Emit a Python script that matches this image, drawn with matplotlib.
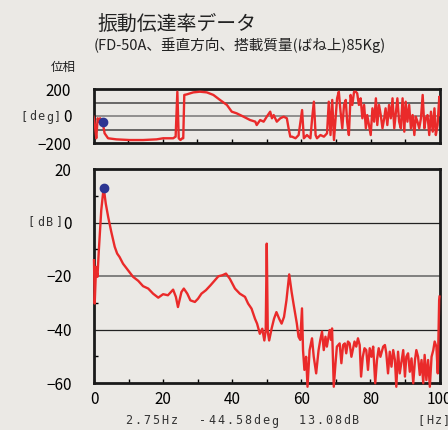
import numpy as np
import matplotlib
matplotlib.use('Agg')
import matplotlib.pyplot as plt

plt.rcParams['font.family'] = ['Noto Sans CJK JP', 'DejaVu Sans']

# phase data (Hz, deg)
ph_f = [0, 0.4, 0.8, 1.2, 1.5, 1.9, 2.3, 2.7, 3.2, 4.2, 6.6, 10.4, 14.3, 18.2, 20.1, 23.0,
        23.7, 24.2, 24.6, 25.1, 25.6, 25.9, 26.2, 26.9, 28.8, 30.7, 32.7, 34.6, 36.5, 38.5,
        39.9, 41.3, 43.3, 45.2, 46.7, 47.1, 48.1, 49.1, 50.0, 51.0, 51.5, 52.0, 52.9, 53.9,
        54.9, 55.8, 56.3, 56.8, 57.3, 58.3, 59.2, 60.2, 60.7, 61.6, 62.6, 63.1, 63.6, 64.1,
        64.5, 65.5, 66.5, 67.4, 67.9, 68.4, 68.9, 69.4, 70.3, 70.8, 71.3, 71.8, 72.3, 72.8,
        73.2, 73.7, 74.2, 74.7, 75.2, 75.7, 76.1, 76.6, 77.1, 77.6, 78.1, 78.6, 79.0, 80.0,
        80.5, 81.0, 81.5, 81.9, 82.4, 82.9, 83.4, 83.9, 84.3, 84.8, 85.3, 85.8, 86.3, 86.8,
        87.2, 87.7, 88.2, 88.7, 89.2, 89.7, 90.1, 90.6, 91.1, 91.6, 92.1, 92.6, 93.0, 93.5,
        94.0, 94.5, 95.0, 95.5, 95.9, 96.4, 96.9, 97.4, 97.9, 98.4, 98.8, 99.3, 99.8, 100]
ph_deg = [-5, -67, -165, -17, -42, -17, -30, -54, -128, -165, -173, -178, -178, -173, -165, -165,
          -153, 180, -165, -178, -165, -165, 156, 160, 175, 180, 175, 156, 119, 82,
          32, 20, -5, -30, -42, -67, -30, -42, -5, 32, -17, 7, -42, -17,
          -5, -17, -91, -153, -153, -165, -141, 44, -165, -141, -165, -17, 106, -141,
          -165, -141, -153, -128, 106, -141, 119, -178, 131, 180, 32, -91, 82, 119,
          -42, -141, 156, 82, 180, 180, 168, 82, 131, -17, 82, -91, 7, -141,
          57, -42, 131, -67, 82, 7, -91, -17, 57, -67, 82, -17, 131, -91,
          7, 131, -42, -91, 131, -116, 106, -42, 82, -91, 7, -141, -5, -42,
          -91, -17, 156, -91, -17, 7, -141, 32, -116, 57, -141, -67, 143, 7]

# amplitude data (Hz, dB)
amp_f = [0, 0.2, 0.6, 1.0, 1.4, 2.1, 2.8, 3.4, 4.1, 5.0, 6.0, 6.7, 7.4, 8.4, 9.9, 11.3, 12.8,
         14.2, 15.7, 17.1, 18.6, 20.0, 21.4, 22.9, 23.7, 24.3, 25.3, 26.0, 27.0, 27.9, 29.2,
         30.1, 31.1, 32.4, 33.7, 35.0, 36.0, 37.2, 38.2, 39.3, 40.8, 42.2, 43.7, 44.6, 45.6,
         46.6, 47.2, 48.0, 48.7, 49.3, 49.7, 50.0, 50.3, 50.7, 51.4, 52.1, 52.8, 53.6, 54.3,
         55.0, 55.7, 56.5, 57.2, 57.8, 58.7, 59.2, 59.7, 60.2, 60.5, 60.9, 61.4, 61.8, 62.4,
         63.1, 63.6, 64.3, 65.0, 65.5, 66.0, 66.5, 67.0, 67.4, 68.2, 68.6, 68.9, 69.4, 69.9,
         70.3, 71.1, 71.6, 72.1, 72.6, 73.0, 73.5, 74.0, 74.5, 75.0, 75.4, 75.9, 76.4, 76.9,
         77.3, 77.8, 78.3, 78.8, 79.3, 79.8, 80.3, 80.8, 81.4, 81.9, 82.4, 82.9, 83.7, 84.2,
         84.6, 85.1, 85.6, 86.1, 86.6, 87.1, 87.5, 88.0, 88.5, 89.0, 89.5, 90.0, 90.4, 90.9,
         91.4, 91.9, 92.4, 92.9, 93.3, 93.8, 94.3, 94.8, 95.3, 95.7, 96.2, 96.7, 97.2, 97.7,
         98.2, 98.6, 99.1, 99.5, 99.9, 100]
amp_db = [-14.1, -30.3, -16.6, -20.3, -10.4, 4.6, 13.1, 7.1, 2.1, -3.5, -9.1, -11.6, -12.9,
          -15.4, -17.9, -20.3, -21.8, -23.8, -24.7, -26.6, -28.1, -26.8, -27.2, -25.1, -27.8,
          -31.6, -26.0, -24.7, -26.6, -29.1, -29.7, -28.5, -26.6, -25.3, -23.5, -21.6, -20.1,
          -19.7, -19.1, -21.0, -24.7, -26.6, -27.8, -30.3, -32.2, -36.0, -37.8, -41.6, -39.7,
          -44.1, -40.3, -7.9, -40.9, -44.1, -39.7, -36.0, -33.5, -36.0, -37.8, -35.3, -29.1,
          -19.4, -26.0, -30.8, -37.7, -42.7, -43.9, -32.1, -47.7, -55.1, -50.2, -61.4, -47.7,
          -43.3, -50.2, -56.4, -47.7, -43.9, -40.8, -47.7, -42.7, -46.4, -40.2, -43.9, -39.6,
          -61.4, -52.6, -46.4, -45.2, -52.6, -45.8, -45.2, -48.9, -44.5, -45.2, -50.2, -47.0,
          -44.5, -46.4, -43.3, -45.8, -57.6, -50.2, -47.0, -47.7, -55.1, -47.0, -50.2, -46.4,
          -60.1, -51.4, -47.0, -50.2, -46.4, -45.8, -48.9, -56.4, -48.3, -53.9, -47.7, -51.4,
          -61.4, -48.3, -56.4, -52.0, -47.7, -57.6, -50.2, -48.9, -55.8, -50.8, -60.1, -51.4,
          -47.7, -50.2, -57.0, -51.4, -60.1, -49.5, -58.9, -51.4, -61.4, -50.2, -47.7, -44.5,
          -46.4, -56.4, -29.0, -27.7]

peak_f, peak_deg, peak_db = 2.75, -44.58, 13.08

W, H = 448, 430
bg = '#ebe9e5'
red = '#ea2a2a'
navy = '#2c3592'

fig = plt.figure(figsize=(W / 100, H / 100), dpi=100, facecolor=bg)

def box(l, t, r, b):
    return [l / W, 1 - b / H, (r - l) / W, (b - t) / H]

def spaced(x, y, s, pitch, size=8.5):
    # draw characters one by one with wide letter spacing (pixel coords)
    for i, ch in enumerate(s):
        fig.text((x + i * pitch) / W, 1 - y / H, ch, fontsize=size, ha='center', va='center',
                 color='#333333', family='DejaVu Sans Mono')

# phase plot
ax1 = fig.add_axes(box(93.5, 89, 440, 143))
ax1.set_facecolor(bg)
ax1.plot(ph_f, ph_deg, color=red, lw=1.7, zorder=3)
ax1.plot([peak_f], [peak_deg], 'o', color=navy, ms=6, zorder=4)
ax1.set_xlim(0, 100)
ax1.set_ylim(-200, 200)
for yv, c in [(100, '#444444'), (0, '#777777'), (-100, '#444444')]:
    ax1.axhline(yv, color=c, lw=1.1, zorder=1)
ax1.set_yticks([200, 0, -200])
ax1.set_yticklabels(['200', '0', '\u2212200'])
ax1.set_xticks(np.arange(10, 100, 10))
ax1.set_xticklabels([])
ax1.tick_params(axis='y', length=0, pad=16, labelsize=11)
ax1.tick_params(axis='x', direction='in', length=3, width=1)
for sp in ax1.spines.values():
    sp.set_linewidth(2)
    sp.set_color('#1a1a1a')

# amplitude plot
ax2 = fig.add_axes(box(94, 169, 439.5, 383))
ax2.set_facecolor(bg)
ax2.plot(amp_f, amp_db, color=red, lw=1.7, zorder=3, clip_on=False)
ax2.plot([peak_f], [peak_db], 'o', color=navy, ms=6, zorder=4)
ax2.set_xlim(0, 100)
ax2.set_ylim(-60, 20)
for yv, c, lw in [(0, '#222222', 0.9), (-20, '#777777', 1.3), (-40, '#222222', 0.9)]:
    ax2.axhline(yv, color=c, lw=lw, zorder=1)
ax2.set_yticks([20, 0, -20, -40, -60])
ax2.set_yticklabels(['20', '0', '\u221220', '\u221240', '\u221260'])
ax2.set_yticks([10, -10, -30, -50], minor=True)
ax2.set_xticks([0, 20, 40, 60, 80, 100])
ax2.set_xticks(np.arange(10, 100, 20), minor=True)
ax2.tick_params(axis='y', which='major', length=0, pad=16, labelsize=11)
ax2.tick_params(axis='y', which='minor', direction='in', length=3, width=1)
ax2.tick_params(axis='x', which='both', direction='in', length=3, width=1, labelsize=11, pad=6)
for sp in ax2.spines.values():
    sp.set_linewidth(2)
    sp.set_color('#1a1a1a')

# titles and labels
fig.text(97 / W, 1 - 24 / H, '振動伝達率データ', fontsize=14.3, color='#222222', va='center')
fig.text(94 / W, 1 - 45 / H, '(FD-50A、垂直方向、搭載質量(ばね上)85Kg)', fontsize=10.5,
         color='#222222', va='center')
fig.text(63 / W, 1 - 67 / H, '位相', fontsize=9, color='#222222', va='center', ha='center')
spaced(24, 117, '[deg]', 8.5)
spaced(31, 222, '[dB]', 9.5)
spaced(129, 421, '2.75Hz', 9)
spaced(203, 421, '-44.58deg', 9)
spaced(302, 421, '13.08dB', 9)
spaced(421, 421, '[Hz]', 8.5)

fig.savefig('out.png', dpi=100, facecolor=bg)
